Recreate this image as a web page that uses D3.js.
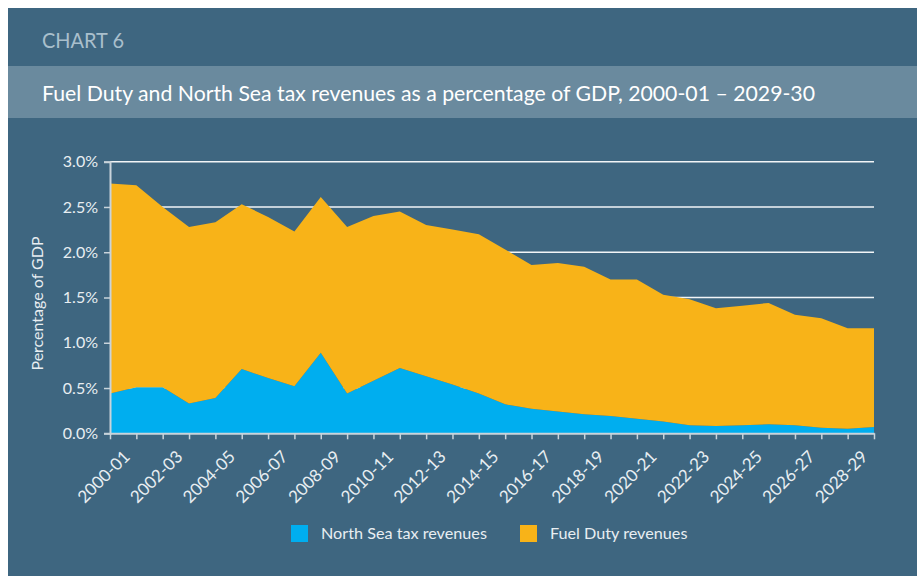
<!DOCTYPE html>
<html>
<head>
<meta charset="utf-8">
<script src="https://cdn.jsdelivr.net/npm/d3@7"></script>
<style>
  html, body { margin: 0; padding: 0; background: #ffffff; }
  svg { display: block; }
  text { font-family: Lato, "Noto Sans", sans-serif; }
</style>
</head>
<body>
<script>
// ---- Data ----
const years = ["2000-01","2001-02","2002-03","2003-04","2004-05","2005-06","2006-07","2007-08","2008-09","2009-10",
               "2010-11","2011-12","2012-13","2013-14","2014-15","2015-16","2016-17","2017-18","2018-19","2019-20",
               "2020-21","2021-22","2022-23","2023-24","2024-25","2025-26","2026-27","2027-28","2028-29","2029-30"];
const northSea = [0.44,0.51,0.51,0.33,0.39,0.71,0.61,0.52,0.89,0.44,
                  0.58,0.72,0.63,0.54,0.44,0.32,0.27,0.24,0.21,0.19,
                  0.16,0.13,0.09,0.08,0.09,0.10,0.09,0.06,0.05,0.07];
const fuelDuty = [2.32,2.23,1.99,1.95,1.94,1.82,1.78,1.71,1.72,1.84,
                  1.82,1.73,1.67,1.71,1.76,1.71,1.59,1.64,1.63,1.51,
                  1.54,1.40,1.39,1.30,1.32,1.34,1.22,1.21,1.11,1.09];
const yTicks = [0, 0.5, 1.0, 1.5, 2.0, 2.5, 3.0];
const seriesNames = ["North Sea tax revenues", "Fuel Duty revenues"];
const seriesColors = ["#00aeef", "#f8b318"];
const chartLabel = "CHART 6";
const titleText = "Fuel Duty and North Sea tax revenues as a percentage of GDP, 2000-01 \u2013 2029-30";
const yTitle = "Percentage of GDP";

// ---- Layout ----
const W = 917, H = 576;
const svg = d3.select("body").append("svg").attr("width", W).attr("height", H);

svg.append("rect").attr("x", 8).attr("y", 8).attr("width", W - 8).attr("height", H - 8).attr("fill", "#3e6680");
svg.append("rect").attr("x", 8).attr("y", 66).attr("width", W - 8).attr("height", 52).attr("fill", "#6a8a9e");

svg.append("text").attr("x", 42).attr("y", 48).attr("fill", "#a9bfcc")
  .attr("font-size", 21).attr("textLength", 82).attr("lengthAdjust", "spacingAndGlyphs").text(chartLabel);
svg.append("text").attr("x", 42).attr("y", 101).attr("fill", "#ffffff")
  .attr("font-size", 22).attr("textLength", 773).attr("lengthAdjust", "spacingAndGlyphs").text(titleText);

const x0 = 110, x1 = 874, yTop = 161.7, yBot = 433.3;
const x = d3.scalePoint().domain(years).range([x0, x1]);
const y = d3.scaleLinear().domain([0, 3]).range([yBot, yTop]);

const rows = years.map((yr, i) => ({ year: yr, ns: northSea[i], fd: fuelDuty[i] }));
const stack = d3.stack().keys(["ns", "fd"]);
const layers = stack(rows);

const area = d3.area()
  .x(d => x(d.data.year))
  .y0(d => y(d[0]))
  .y1(d => y(d[1]));

// gridlines (behind areas)
const grid = svg.append("g");
grid.selectAll("line").data(yTicks.filter(t => t > 0)).join("line")
  .attr("x1", x0).attr("x2", x1)
  .attr("y1", d => y(d)).attr("y2", d => y(d))
  .attr("stroke", "#f2f5f7").attr("stroke-width", 1.5);

svg.append("g").selectAll("path").data(layers).join("path")
  .attr("d", area)
  .attr("fill", (d, i) => seriesColors[i]);

// y axis
const yAxis = d3.axisLeft(y).tickValues(yTicks).tickFormat(d => d.toFixed(1) + "%").tickSize(6).tickPadding(6);
const gy = svg.append("g").attr("transform", `translate(${x0},0)`).call(yAxis);
gy.select(".domain").attr("stroke", "#c9d4db").attr("stroke-width", 2);
gy.selectAll(".tick line").attr("stroke", "#c9d4db").attr("stroke-width", 1.5);
gy.selectAll(".tick text").attr("fill", "#e8eef2").attr("font-size", 16).attr("font-family", "Lato, sans-serif");

// x axis
const xAxis = d3.axisBottom(x).tickSize(6).tickSizeOuter(0)
  .tickFormat((d, i) => i % 2 === 0 && i < years.length - 1 ? d : "");
const gx = svg.append("g").attr("transform", `translate(0,${yBot})`).call(xAxis);
gx.select(".domain").attr("stroke", "#c9d4db").attr("stroke-width", 2);
gx.selectAll(".tick line").attr("stroke", "#c9d4db").attr("stroke-width", 1.5);
gx.selectAll(".tick text")
  .attr("fill", "#e8eef2").attr("font-size", 17).attr("font-family", "Lato, sans-serif")
  .attr("text-anchor", "end")
  .attr("transform", "translate(12,16) rotate(-45)")
  .attr("dy", "0.35em").attr("y", 6).attr("x", 0);

// y title
svg.append("text")
  .attr("transform", `translate(43,${(yTop + yBot) / 2 + 6}) rotate(-90)`)
  .attr("text-anchor", "middle").attr("fill", "#e8eef2").attr("font-size", 16)
  .text(yTitle);

// legend
const legendX = [291, 520];
const lg = svg.append("g");
seriesNames.forEach((name, i) => {
  lg.append("rect").attr("x", legendX[i]).attr("y", 525).attr("width", 17).attr("height", 17).attr("fill", seriesColors[i]);
  lg.append("text").attr("x", legendX[i] + 30).attr("y", 539).attr("fill", "#e8eef2").attr("font-size", 16.2).text(name);
});
</script>
</body>
</html>
